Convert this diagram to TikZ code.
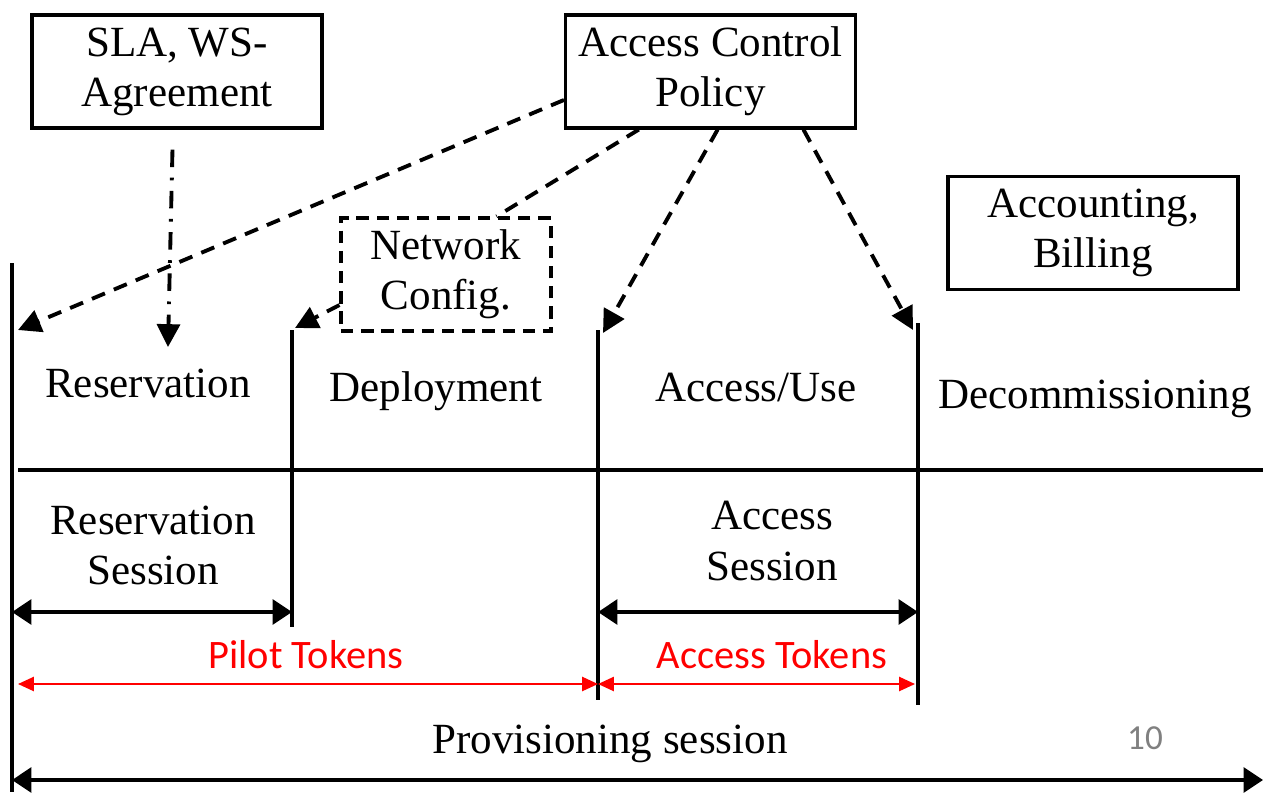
\documentclass[tikz,border=0pt]{standalone}
\usepackage{fontspec}
\setmainfont{Liberation Serif}
\newfontfamily\calibri{Carlito}
\usetikzlibrary{arrows.meta, positioning, calc}
\tikzstyle{box} = [rectangle, draw=black, line width=1.8pt, minimum width=5.8cm, minimum height=2.26cm, align=center, text centered]
\tikzstyle{dbox} = [rectangle, draw=black, line width=1.8pt, dash pattern=on 7pt off 4.5pt, minimum width=4.2cm, minimum height=2.26cm, align=center, text centered]
\tikzstyle{phase} = [anchor=base, inner sep=0pt]
\tikzstyle{stage} = [line width=1.8pt]
\tikzstyle{link} = [line width=2.2pt, dash pattern=on 8pt off 5.5pt, -{Triangle[length=13pt,width=13pt]}]
\tikzstyle{slalink} = [line width=2.2pt, dash pattern=on 10pt off 6pt on 1.5pt off 6pt, -{Triangle[length=13pt,width=13pt]}]
\tikzstyle{span} = [line width=2.2pt, {Triangle[length=11pt,width=14pt]}-{Triangle[length=11pt,width=14pt]}]
\tikzstyle{token} = [red, line width=1.1pt, {Triangle[length=9pt,width=8pt]}-{Triangle[length=9pt,width=8pt]}]

\begin{document}
\begin{tikzpicture}[x=0.02cm, y=-0.02cm, font=\fontsize{24.5}{28.5}\selectfont]
    \useasboundingbox (0,0) rectangle (1263,794);

    % boxes on top
    \node (sla) [box] at (177,71.5) {SLA, WS-\\Agreement};
    \node (acp) [box] at (710.5,71.5) {Access Control\\Policy};
    \node (acct) [box] at (1093,233) {Accounting,\\Billing};
    \node (net) [dbox] at (446,274.5) {Network\\Config.};

    % stage borders
    \coordinate (t0) at (12,263);   \coordinate (b0) at (12,792);
    \coordinate (t1) at (292,330);  \coordinate (b1) at (292,627);
    \coordinate (t2) at (598,330);  \coordinate (b2) at (598,700);
    \coordinate (t3) at (918,323);  \coordinate (b3) at (918,705);
    \coordinate (lineL) at (18,470);
    \coordinate (lineR) at (1263,470);
    \draw [stage] (t0) -- (b0);
    \draw [stage] (t1) -- (b1);
    \draw [stage] (t2) -- (b2);
    \draw [stage] (t3) -- (b3);
    \draw [stage] (lineL) -- (lineR);

    % phases
    \node (res) [phase] at (148,397) {Reservation};
    \node (dep) [phase] at (436,401) {Deployment};
    \node (use) [phase] at (756,401) {Access/Use};
    \node (dec) [phase] at (1095,408) {Decommissioning};

    % policy links
    \coordinate (hit0) at (18,330);
    \coordinate (hit1) at (295,328);
    \coordinate (hit2) at (603,333);
    \coordinate (hit3) at (913,330);
    \coordinate (hitS) at (168,347);
    \draw [link] (acp.191) -- (hit0);
    \draw [link, -] (acp.219) -- (net.49);
    \draw [link] (net.196) -- (hit1);
    \draw [link] (acp.277) -- (hit2);
    \draw [link] (acp.328) -- (hit3);
    \draw [slalink, shorten <=0.4cm] (sla.266) -- (hitS);

    % sessions
    \node (rses) [align=center] at (153,545) {Reservation\\Session};
    \node (ases) [align=center] at (772,541) {Access\\Session};
    \coordinate (rowA) at (0,612);
    \draw [span] (t0 |- rowA) -- (t1 |- rowA);
    \draw [span] (t2 |- rowA) -- (t3 |- rowA);

    % tokens
    \node (pilot) [red, font=\calibri\fontsize{23}{27}\selectfont] at (306,655) {Pilot Tokens};
    \node (atok) [red, font=\calibri\fontsize{23}{27}\selectfont] at (772,655) {Access Tokens};
    \coordinate (rowB) at (0,684);
    \draw [token] (lineL |- rowB) -- (t2 |- rowB);
    \draw [token] (t2 |- rowB) -- ([xshift=-0.06cm]t3 |- rowB);

    % provisioning
    \node (prov) at (610,744) {Provisioning session};
    \node (pagenum) [gray, font=\calibri\fontsize{20}{24}\selectfont] at (1145,738) {10};
    \coordinate (rowC) at (0,780);
    \draw [span] (t0 |- rowC) -- (lineR |- rowC);
\end{tikzpicture}
\end{document}
